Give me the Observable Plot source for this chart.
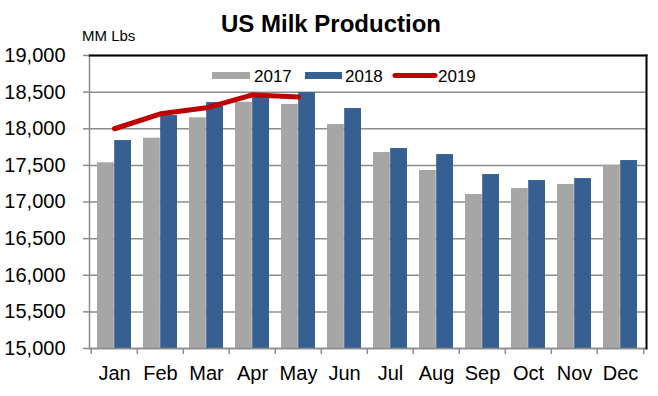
<!DOCTYPE html>
<html><head><meta charset="utf-8">
<script src="https://cdn.jsdelivr.net/npm/d3@7"></script>
<script src="https://cdn.jsdelivr.net/npm/@observablehq/plot@0.6"></script>
<style>
body{margin:0;background:#fff;font-family:"Liberation Sans",Arial,sans-serif;}
</style>
</head><body>
<div id="chart"></div>
<script>
const months = ["Jan","Feb","Mar","Apr","May","Jun","Jul","Aug","Sep","Oct","Nov","Dec"];
const v2017 = [17535, 17871, 18149, 18362, 18331, 18058, 17675, 17430, 17102, 17184, 17239, 17502];
const v2018 = [17839, 18180, 18358, 18470, 18494, 18276, 17730, 17648, 17375, 17293, 17320, 17566];
const v2019 = [18000, 18204, 18286, 18463, 18432];
const yTicks = [15000, 15500, 16000, 16500, 17000, 17500, 18000, 18500, 19000];
const seriesNames = ["2017", "2018", "2019"];
const titleText = "US Milk Production";
const unitText = "MM Lbs";

const W = 658, H = 396, mL = 89, mR = 12, mT = 55, mB = 48;
const step = (W - mL - mR) / months.length;
const bw = step * 0.74;
const grey = "#a6a6a6", blue = "#376092", red = "#c00000", gridC = "#8c8c8c";

const rows = months.map((m, i) => ({month: m, v17: v2017[i], v18: v2018[i]}));
const line = v2019.map((v, i) => ({month: months[i], v}));

const svg = Plot.plot({
  width: W, height: H,
  marginLeft: mL, marginRight: mR, marginTop: mT, marginBottom: mB,
  style: {fontFamily: "'Liberation Sans', Arial, sans-serif", fontSize: "20px", color: "black", background: "white", overflow: "visible"},
  x: {domain: months, paddingInner: 0.26, paddingOuter: 0.13},
  y: {domain: [15000, 19000]},
  marks: [
    Plot.gridY(yTicks, {stroke: gridC, strokeOpacity: 1, strokeWidth: 1.5}),
    Plot.barY(rows, {x: "month", y1: 15000, y2: "v17", fill: grey, insetRight: bw / 2}),
    Plot.barY(rows, {x: "month", y1: 15000, y2: "v18", fill: blue, insetLeft: bw / 2}),
    Plot.lineY(line, {x: "month", y: "v", stroke: red, strokeWidth: 5, strokeLinecap: "round", strokeLinejoin: "round"}),
    Plot.frame({anchor: "left", stroke: gridC, strokeWidth: 1.5}),
    Plot.frame({anchor: "bottom", stroke: gridC, strokeWidth: 1.5}),
    Plot.frame({anchor: "top", stroke: "black", strokeWidth: 2}),
    Plot.frame({anchor: "right", stroke: "black", strokeWidth: 2}),
    Plot.ruleX(months, {x: d => d, y1: 15000, y2: 15000, insetBottom: -6, dx: -step / 2, stroke: gridC, strokeWidth: 1.5}),
    Plot.ruleX([months[months.length - 1]], {x: d => d, y1: 15000, y2: 15000, insetBottom: -6, dx: step / 2, stroke: gridC, strokeWidth: 1.5}),
    Plot.axisY({ticks: yTicks, tickFormat: d3.format(","), tickSize: 6, tickPadding: 18, stroke: gridC, strokeWidth: 1.5, fontSize: 20, label: null}),
    Plot.axisX({tickSize: 0, tickPadding: 17, fontSize: 20, label: null})
  ]
});
document.getElementById("chart").appendChild(svg);

const s = d3.select(svg);
s.append("text").attr("x", 331).attr("y", 31.5).attr("text-anchor", "middle")
  .style("font-size", "24px").style("font-weight", "bold").attr("fill", "black").text(titleText);
s.append("text").attr("x", 82).attr("y", 41).attr("text-anchor", "start")
  .style("font-size", "15px").attr("fill", "black").text(unitText);

const lg = s.append("g").attr("fill", "black").attr("text-anchor", "start");
lg.append("rect").attr("x", 212).attr("y", 72).attr("width", 38).attr("height", 7).attr("fill", grey);
lg.append("text").attr("x", 254).attr("y", 82).style("font-size", "17px").text(seriesNames[0]);
lg.append("rect").attr("x", 305).attr("y", 72).attr("width", 37).attr("height", 7).attr("fill", blue);
lg.append("text").attr("x", 345).attr("y", 82).style("font-size", "17px").text(seriesNames[1]);
lg.append("line").attr("x1", 395).attr("x2", 435).attr("y1", 75.5).attr("y2", 75.5)
  .attr("stroke", red).attr("stroke-width", 5).attr("stroke-linecap", "round");
lg.append("text").attr("x", 438).attr("y", 82).style("font-size", "17px").text(seriesNames[2]);
</script>
</body></html>
